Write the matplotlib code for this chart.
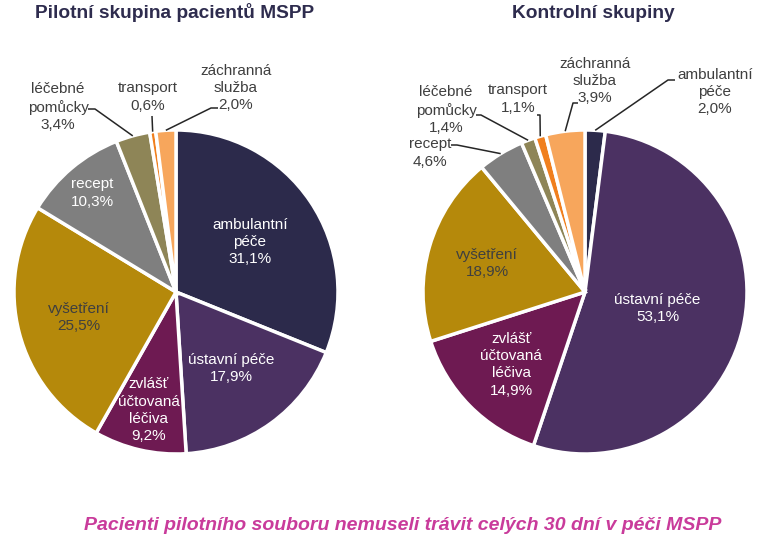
import numpy as np
import matplotlib

matplotlib.use('AGG')  # noqa

import matplotlib.pyplot as plt

# categories in drawing order (clockwise from 12 o'clock)
categories = ['ambulantní\npéče', 'ústavní péče', 'zvlášť\núčtovaná\nléčiva',
              'vyšetření', 'recept', 'léčebné\npomůcky', 'transport',
              'záchranná\nslužba']
pilot = [31.1, 17.9, 9.2, 25.5, 10.3, 3.4, 0.6, 2.0]
control = [2.0, 53.1, 14.9, 18.9, 4.6, 1.4, 1.1, 3.9]
titles = ['Pilotní skupina pacientů MSPP', 'Kontrolní skupiny']
footer = 'Pacienti pilotního souboru nemuseli trávit celých 30 dní v péči MSPP'

colors = ['#2c2a4b', '#4b3162', '#6e1a52', '#b5890b', '#7f7f7f',
          '#8e8557', '#f07f1e', '#f7a65c']
inside_color = ['white', 'white', 'white', '#3f3f3f', 'white',
                'white', 'white', 'white']

W, H = 769, 549
plt.rcParams['font.family'] = ['Liberation Sans', 'DejaVu Sans']

fig = plt.figure(figsize=(W / 100, H / 100), dpi=100)
ax = fig.add_axes([0, 0, 1, 1])


def fmt(v):
    return ('%.1f%%' % v).replace('.', ',')


# per pie: centre (px), radius, inside label radial fraction (None = outside)
# and outside label layout: text centre, line start, elbow
pies = [
    dict(values=pilot, center=(176, 292), r=162, title_x=175,
         frac=[0.55, 0.58, 0.75, 0.62, 0.8, None, None, None],
         outside={5: ((58, 107), (88, 109), (95, 109)),
                  6: ((148, 97), (152, 116), (152, 116)),
                  7: ((236, 88), (218, 108), (211, 108))}),
    dict(values=control, center=(585, 292), r=162, title_x=593,
         frac=[None, 0.46, 0.64, 0.63, None, None, None, None],
         outside={0: ((715, 92), (675, 80), (668, 80)),
                  7: ((595, 81), (578, 103), (573, 103)),
                  6: ((518, 99), (537, 115), (540, 115)),
                  5: ((446, 110), (476, 115), (481, 115)),
                  4: ((430, 153), (451, 145), (457, 145))}),
]

for p in pies:
    cx, cy = p['center']
    r = p['r']
    wedges, _ = ax.pie(p['values'], colors=colors, startangle=90,
                       counterclock=False, center=(cx, H - cy), radius=r,
                       wedgeprops=dict(edgecolor='white', linewidth=2.5))
    for i, w in enumerate(wedges):
        mid = np.deg2rad((w.theta1 + w.theta2) / 2)
        label = categories[i] + '\n' + fmt(p['values'][i])
        if p['frac'][i] is not None:
            d = r * p['frac'][i]
            ax.text(cx + d * np.cos(mid), H - cy + d * np.sin(mid), label,
                    ha='center', va='center', fontsize=11,
                    color=inside_color[i], linespacing=1.3)
        elif i in p['outside']:
            (tx, ty), (sx, sy), (ex, ey) = p['outside'][i]
            ax.text(tx, H - ty, label, ha='center', va='center',
                    fontsize=11, color='#3f3f3f', linespacing=1.3)
            edge = (cx + r * np.cos(mid), H - cy + r * np.sin(mid))
            ax.plot([sx, ex, edge[0]], [H - sy, H - ey, edge[1]],
                    color='#262626', lw=1.1, solid_capstyle='butt')
    ax.text(p['title_x'], H - 13, titles[pies.index(p)], ha='center',
            va='center', fontsize=13.8, fontweight='bold', color='#2e2c4e')

ax.text(403, H - 525, footer, ha='center', va='center', fontsize=14,
        fontstyle='italic', fontweight='bold', color='#c93b9b')

ax.set_xlim(0, W)
ax.set_ylim(0, H)
ax.set_aspect('auto')
ax.axis('off')

plt.savefig('out.png', dpi=100)
